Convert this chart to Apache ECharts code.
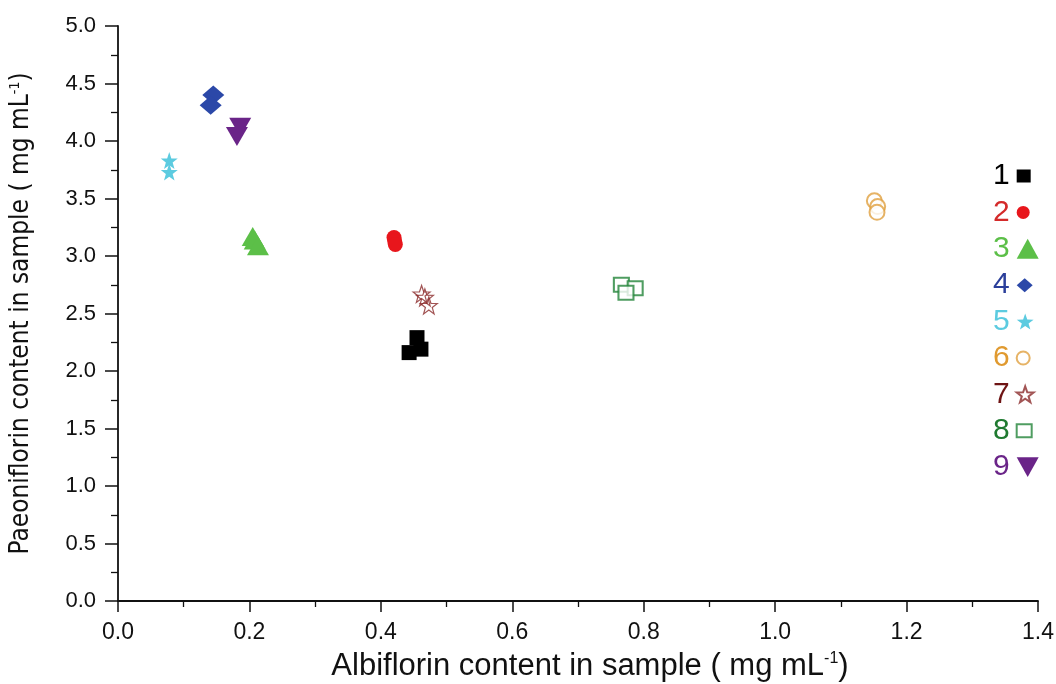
<!DOCTYPE html>
<html><head><meta charset="utf-8">
<script src="https://cdn.jsdelivr.net/npm/echarts@6/dist/echarts.min.js"></script>
<style>html,body{margin:0;padding:0;background:#fff}#c{width:1056px;height:684px}</style>
</head><body><div id="c"></div>
<script>
// ---- data (Albiflorin x, Paeoniflorin y), mg mL-1 ----
const seriesNames = ['1','2','3','4','5','6','7','8','9'];
const pts1 = [[0.455,2.29],[0.443,2.16],[0.461,2.19]];
const pts2 = [[0.420,3.16],[0.421,3.13],[0.422,3.10]];
const pts3 = [[0.205,3.17],[0.208,3.14],[0.213,3.09]];
const pts4 = [[0.145,4.40],[0.141,4.31]];
const pts5 = [[0.078,3.83],[0.078,3.73]];
const pts6 = [[1.151,3.48],[1.156,3.43],[1.155,3.38]];
const pts7 = [[0.462,2.67],[0.467,2.64],[0.473,2.57]];
const pts8 = [[0.766,2.75],[0.787,2.72],[0.773,2.68]];
const pts9 = [[0.186,4.12],[0.181,4.04]];
const xTicks = [0,0.2,0.4,0.6,0.8,1.0,1.2,1.4];
const yTicks = [0,0.5,1,1.5,2,2.5,3,3.5,4,4.5,5];

const allPts = [pts1,pts2,pts3,pts4,pts5,pts6,pts7,pts8,pts9];
const colors = ['#000000','#e8161c','#5cbf48','#2b48a8','#5ccbe0','#e0a040','#7a1a1a','#23843a','#6a2488'];
const textColors = ['#000000','#d42a2a','#5cbf48','#2b3f9a','#5ccbe0','#e09a30','#6e1414','#1f7a30','#6a2488'];
const STAR = 'path://M0,-10 L2.35,-3.24 L9.51,-3.09 L3.8,1.24 L5.88,8.09 L0,4 L-5.88,8.09 L-3.8,1.24 L-9.51,-3.09 L-2.35,-3.24 Z';
const TRI_DOWN = 'path://M0,0 L10,0 L5,9 Z';
const symbols = ['rect','circle','triangle','diamond',STAR,'emptyCircle',STAR,'emptyRect',TRI_DOWN];
const sizes = [[15,15],[15,15],[22,19],[22,19],[17,17],[15,15],[17,17],[15,14],[22,19]];
const legendSizes = [[14,13],[13,13],[22,20],[16,14],[17,16],[13,13],[17,16],[15,13],[22,20]];

const series = allPts.map((d,i)=>{
  let itemStyle = {color: colors[i], opacity:1};
  if (i===5 || i===7) itemStyle = {color: colors[i], borderWidth:1.5};
  if (i===6) itemStyle = {color:'rgba(255,255,255,0)', borderColor:'#8b2a2a', borderWidth:1.2};
  return {
    name: seriesNames[i], type:'scatter', data:d,
    symbol: symbols[i], symbolSize: sizes[i],
    itemStyle: itemStyle, emphasis:{disabled:true}
  };
});

const font = '"Liberation Sans", Arial, sans-serif';
const narrow = '"Liberation Sans Narrow", "DejaVu Sans Condensed", "Liberation Sans", sans-serif';

const legends = seriesNames.map((n,i)=>({
  data:[{name:n, textStyle:{color:textColors[i]}}],
  orient:'vertical', left:993, top:161 + i*36.4, align:'right',
  itemWidth: legendSizes[i][0], itemHeight: legendSizes[i][1], itemGap:0,
  selectedMode:false, padding:0,
  textStyle:{fontSize:30, fontFamily:font, padding:[0,2,0,0]}
}));

const chart = echarts.init(document.getElementById('c'), null, {renderer:'canvas'});
chart.setOption({
  animation:false,
  backgroundColor:'#fff',
  grid:{left:118, right:18, top:26, bottom:83, containLabel:false, outerBoundsMode:'none'},
  legend: legends,
  xAxis:{
    type:'value', min:0, max:1.4, interval:0.2,
    axisLine:{show:true, onZero:false, lineStyle:{color:'#111', width:1.8}},
    axisTick:{show:true, length:11, lineStyle:{color:'#111', width:1.5}},
    minorTick:{show:true, splitNumber:2, length:6, lineStyle:{color:'#111', width:1.3}},
    splitLine:{show:false},
    axisLabel:{fontSize:23, color:'#111', fontFamily:font, margin:20, formatter:v=>v.toFixed(1)},
    name:'{a|Albiflorin content in sample ( mg mL}{s|-1}{a|)}',
    nameLocation:'middle', nameGap:50,
    nameTextStyle:{padding:[0,0,0,24], rich:{
      a:{fontSize:31, fontFamily:font, color:'#111'},
      s:{fontSize:16, fontFamily:font, color:'#111', verticalAlign:'top', padding:[0,0,15,0]}
    }}
  },
  yAxis:{
    type:'value', min:0, max:5, interval:0.5,
    axisLine:{show:true, onZero:false, lineStyle:{color:'#111', width:1.8}},
    axisTick:{show:true, length:13, lineStyle:{color:'#111', width:1.5}},
    minorTick:{show:true, splitNumber:2, length:7, lineStyle:{color:'#111', width:1.3}},
    splitLine:{show:false},
    axisLabel:{fontSize:22, color:'#111', fontFamily:font, margin:22, formatter:v=>v.toFixed(1)},
    name:'{a|Paeoniflorin content in sample ( mg mL}{s|-1}{a|)}',
    nameLocation:'middle', nameGap:84, nameRotate:90,
    nameTextStyle:{rich:{
      a:{fontSize:26, fontFamily:narrow, color:'#111'},
      s:{fontSize:14, fontFamily:narrow, color:'#111', verticalAlign:'top', padding:[0,0,12,0]}
    }}
  },
  series: series
});
</script></body></html>
